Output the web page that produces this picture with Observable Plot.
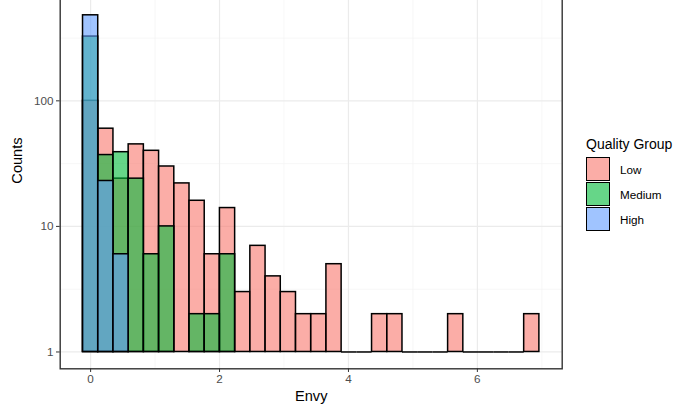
<!DOCTYPE html>
<html><head><meta charset="utf-8">
<script src="https://cdn.jsdelivr.net/npm/d3@7"></script>
<script src="https://cdn.jsdelivr.net/npm/@observablehq/plot@0.6"></script>
<style>
html,body{margin:0;padding:0;background:#fff;}
#wrap{position:relative;width:678px;height:415px;overflow:hidden;font-family:"Liberation Sans",Arial,Helvetica,sans-serif;background:#fff;}
#chart{position:absolute;left:0;top:-2px;}
.lg{position:absolute;}
.lgtitle{left:586px;top:137px;font-size:14px;line-height:14px;color:#000;white-space:nowrap;}
.key{left:586px;width:24px;height:24px;box-sizing:border-box;border:1.3px solid #000;}
.lbl{left:620px;height:24px;display:flex;align-items:center;font-size:11.7px;color:#000;white-space:nowrap;}
</style></head><body>
<div id="wrap"><div id="chart"></div><div id="legend"></div></div>
<script>
// Histogram bin edges (Envy)
const binEdges = [-0.118, 0.118, 0.354, 0.590, 0.826, 1.062, 1.298, 1.534, 1.770, 2.006,
  2.242, 2.478, 2.714, 2.950, 3.186, 3.422, 3.658, 3.894, 4.130, 4.366,
  4.602, 4.838, 5.074, 5.310, 5.546, 5.782, 6.018, 6.254, 6.490, 6.726, 6.962];
// Counts per bin, by quality group
const lowCounts    = [100, 60, 24, 45, 40, 30, 22, 16, 6, 14, 3, 7, 4, 3, 2, 2, 5, 1, 1, 2, 2, 1, 1, 1, 2, 1, 1, 1, 1, 2];
const mediumCounts = [325, 37, 39, 24, 6, 10, 0, 2, 2, 6, 0, 0, 0, 0, 0, 0, 0, 0, 0, 0, 0, 0, 0, 0, 0, 0, 0, 0, 0, 0];
const highCounts   = [480, 23, 6, 0, 0, 0, 0, 0, 0, 0, 0, 0, 0, 0, 0, 0, 0, 0, 0, 0, 0, 0, 0, 0, 0, 0, 0, 0, 0, 0];
const groups = ["Low", "Medium", "High"];
const groupColors = ["#F8766D", "#00BA38", "#619CFF"];
const xTicks = [0, 2, 4, 6];
const xMinor = [1, 3, 5, 7];
const yTicks = [1, 10, 100];
const yMinor = [3.162, 31.62, 316.2];

const series = [lowCounts, mediumCounts, highCounts];
const bars = [];
groups.forEach((g, gi) => series[gi].forEach((c, i) => {
  if (c > 0) bars.push({group: g, x1: binEdges[i], x2: binEdges[i + 1], count: c});
}));
const tall = bars.filter(d => d.count > 1);
const flat = bars.filter(d => d.count === 1);

const font = '"Liberation Sans",Arial,Helvetica,sans-serif';
const plot = Plot.plot({
  width: 678, height: 417,
  marginLeft: 59.7, marginRight: 116.3, marginTop: 0, marginBottom: 46.7,
  style: {fontFamily: font, fontSize: "11.7px", background: "#fff", overflow: "visible"},
  x: {domain: [-0.472, 7.316]},
  y: {type: "log", domain: [0.7345, 653.1]},
  color: {domain: groups, range: groupColors},
  marks: [
    Plot.ruleX(xMinor, {stroke: "#F4F4F4", strokeWidth: 0.7}),
    Plot.ruleY(yMinor, {stroke: "#F4F4F4", strokeWidth: 0.7}),
    Plot.ruleX(xTicks, {stroke: "#EBEBEB", strokeWidth: 1.2}),
    Plot.ruleY(yTicks, {stroke: "#EBEBEB", strokeWidth: 1.2}),
    Plot.ruleY(flat, {y: 1, x1: "x1", x2: "x2", stroke: "#000", strokeWidth: 1.5}),
    Plot.rect(tall, {x1: "x1", x2: "x2", y1: 1, y2: "count", fill: "group", fillOpacity: 0.6, stroke: "#000", strokeWidth: 1.5}),
    Plot.frame({stroke: "#333333", strokeWidth: 1.4}),
    Plot.axisX({ticks: xTicks, tickSize: 3.7, tickPadding: 2.5, color: "#4D4D4D", stroke: "#333333", label: null, fontSize: "11.7px"}),
    Plot.axisY({ticks: yTicks, tickSize: 3.7, tickPadding: 2.9, color: "#4D4D4D", stroke: "#333333", label: null, tickFormat: d => String(d), fontSize: "11.7px"}),
    Plot.text(["Envy"], {frameAnchor: "bottom", dy: 32.5, text: d => d, fontSize: 14.6, fill: "#000"}),
    Plot.text(["Counts"], {frameAnchor: "left", dx: -42.5, rotate: -90, text: d => d, fontSize: 14.6, fill: "#000"})
  ]
});
document.getElementById("chart").appendChild(plot);

// Legend
const lg = document.getElementById("legend");
const t = document.createElement("div");
t.className = "lg lgtitle"; t.textContent = "Quality Group"; lg.appendChild(t);
const keyTops = [157, 182, 207];
groups.forEach((g, i) => {
  const k = document.createElement("div");
  k.className = "lg key";
  k.style.top = keyTops[i] + "px";
  k.style.background = d3.color(groupColors[i]).copy({opacity: 0.6}).formatRgb();
  lg.appendChild(k);
  const l = document.createElement("div");
  l.className = "lg lbl";
  l.style.top = keyTops[i] + "px";
  l.textContent = g;
  lg.appendChild(l);
});
</script>
</body></html>
